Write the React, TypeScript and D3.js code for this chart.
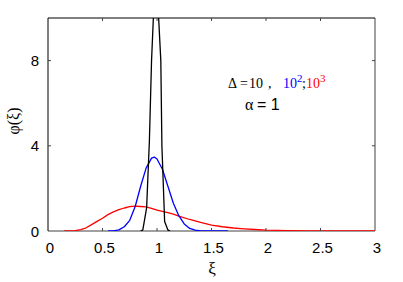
import React, { useRef, useEffect } from 'react';
import * as d3 from 'd3';

// curve samples: [xi, phi]
const blackCurve: [number, number][] = [
  [0.85, 0], [0.87, 0.05], [0.905, 1.1], [0.93, 4.2], [0.95, 8.0], [0.97, 10.4],
  [0.99, 11.0], [1.01, 10.5], [1.035, 8.0], [1.045, 4.0], [1.07, 0.45], [1.1, 0.05], [1.12, 0]
];
const blueCurve: [number, number][] = [
  [0.55, 0], [0.6, 0.01], [0.65, 0.05], [0.7, 0.2], [0.75, 0.5], [0.8, 1.15], [0.85, 2.1],
  [0.9, 2.95], [0.95, 3.42], [0.975, 3.47], [1.0, 3.38], [1.05, 2.9], [1.1, 2.1], [1.15, 1.3],
  [1.2, 0.72], [1.25, 0.33], [1.3, 0.12], [1.35, 0.04], [1.4, 0.01], [1.5, 0], [1.65, 0]
];
const redCurve: [number, number][] = [
  [0.15, 0], [0.2, 0.005], [0.25, 0.02], [0.3, 0.06], [0.35, 0.15], [0.4, 0.3], [0.45, 0.45],
  [0.5, 0.6], [0.55, 0.77], [0.6, 0.9], [0.65, 1.0], [0.7, 1.08], [0.75, 1.14], [0.8, 1.17],
  [0.85, 1.15], [0.9, 1.13], [0.95, 1.06], [1.0, 0.98], [1.05, 0.92], [1.1, 0.86], [1.15, 0.79],
  [1.2, 0.7], [1.3, 0.54], [1.4, 0.4], [1.5, 0.28], [1.6, 0.2], [1.7, 0.14], [1.8, 0.1],
  [1.9, 0.07], [2.0, 0.045], [2.2, 0.02], [2.4, 0.01], [2.6, 0.005], [2.8, 0.002], [3.0, 0.001]
];
const xTicks = [0, 0.5, 1, 1.5, 2, 2.5, 3];
const yTicks = [0, 4, 8];

const App = () => {
  const svgRef = useRef<SVGSVGElement>(null);

  useEffect(() => {
    const svg = d3.select(svgRef.current);
    svg.selectAll('*').remove();

    const left = 48, right = 375, top = 18, bottom = 231;
    const x = d3.scaleLinear().domain([0, 3]).range([left, right]);
    const y = d3.scaleLinear().domain([0, 10]).range([bottom, top]);
    const sans = 'Liberation Sans, Arial, sans-serif';
    const serif = 'Liberation Serif, Times New Roman, serif';

    svg.append('defs').append('clipPath').attr('id', 'plot')
      .append('rect').attr('x', left).attr('y', top)
      .attr('width', right - left).attr('height', bottom - top);

    const line = d3.line<[number, number]>().x(d => x(d[0])).y(d => y(d[1]));
    const curves: [[number, number][], string][] = [
      [redCurve, '#ff0000'], [blueCurve, '#0000ff'], [blackCurve, '#000000']
    ];

    // frame: bottom/right gray, top/left black
    svg.append('line').attr('x1', left).attr('x2', right).attr('y1', bottom).attr('y2', bottom)
      .attr('stroke', '#808080').attr('stroke-width', 1.5);
    svg.append('line').attr('x1', right).attr('x2', right).attr('y1', top).attr('y2', bottom)
      .attr('stroke', '#808080').attr('stroke-width', 1.5);

    const g = svg.append('g').attr('clip-path', 'url(#plot)');
    curves.forEach(([data, color]) => {
      g.append('path').datum(data)
        .attr('fill', 'none').attr('stroke', color).attr('stroke-width', 1.3)
        .attr('stroke-linejoin', 'round').attr('d', line);
    });

    svg.append('line').attr('x1', left).attr('x2', right).attr('y1', top).attr('y2', top)
      .attr('stroke', '#000').attr('stroke-width', 1);
    svg.append('line').attr('x1', left).attr('x2', left).attr('y1', top).attr('y2', bottom)
      .attr('stroke', '#000').attr('stroke-width', 1);

    // inward ticks
    xTicks.slice(1, -1).forEach(t => {
      svg.append('line').attr('x1', x(t)).attr('x2', x(t)).attr('y1', top).attr('y2', top + 3)
        .attr('stroke', '#444');
      svg.append('line').attr('x1', x(t)).attr('x2', x(t)).attr('y1', bottom).attr('y2', bottom - 3)
        .attr('stroke', '#444');
    });
    yTicks.slice(1).forEach(t => {
      svg.append('line').attr('x1', left).attr('x2', left + 3).attr('y1', y(t)).attr('y2', y(t))
        .attr('stroke', '#444');
      svg.append('line').attr('x1', right).attr('x2', right - 3).attr('y1', y(t)).attr('y2', y(t))
        .attr('stroke', '#444');
    });

    // tick labels
    svg.append('g').selectAll('text').data(xTicks).join('text')
      .attr('x', d => x(d) + 2).attr('y', 253).attr('text-anchor', 'middle')
      .attr('font-family', sans).attr('font-size', 15).text(d => String(d));
    svg.append('g').selectAll('text').data(yTicks).join('text')
      .attr('x', 39).attr('y', d => y(d) + 5.5).attr('text-anchor', 'end')
      .attr('font-family', sans).attr('font-size', 15).text(d => String(d));

    // axis titles
    svg.append('text').attr('x', 212).attr('y', 274).attr('text-anchor', 'middle')
      .attr('font-family', serif).attr('font-size', 17).text('ξ');
    svg.append('text').attr('transform', 'translate(19,121) rotate(-90)')
      .attr('text-anchor', 'middle').attr('font-family', serif).attr('font-size', 16).text('φ(ξ)');

    // annotation
    const ann = svg.append('text').attr('y', 88).attr('font-family', serif).attr('font-size', 14);
    ann.append('tspan').attr('x', 228).text('Δ');
    ann.append('tspan').attr('x', 240).text('=');
    ann.append('tspan').attr('x', 249).text('10');
    ann.append('tspan').attr('x', 268).text(',');
    ann.append('tspan').attr('x', 283).attr('fill', '#0000ff').text('10');
    ann.append('tspan').attr('x', 297).attr('dy', -6).attr('font-size', 11).attr('fill', '#0000ff').text('2');
    ann.append('tspan').attr('x', 302).attr('dy', 6).text(';');
    ann.append('tspan').attr('x', 306).attr('fill', '#ff0000').text('10');
    ann.append('tspan').attr('x', 320).attr('dy', -6).attr('font-size', 11).attr('fill', '#ff0000').text('3');

    const al = svg.append('text').attr('y', 110).attr('font-size', 16);
    al.append('tspan').attr('x', 245).attr('font-family', serif).text('α');
    al.append('tspan').attr('x', 257).attr('font-family', sans).text('= 1');
  }, []);

  return (
    <svg ref={svgRef} width={403} height={282}
      style={{ position: 'absolute', left: 0, top: 0, background: '#fff' }} />
  );
};

export default App;
